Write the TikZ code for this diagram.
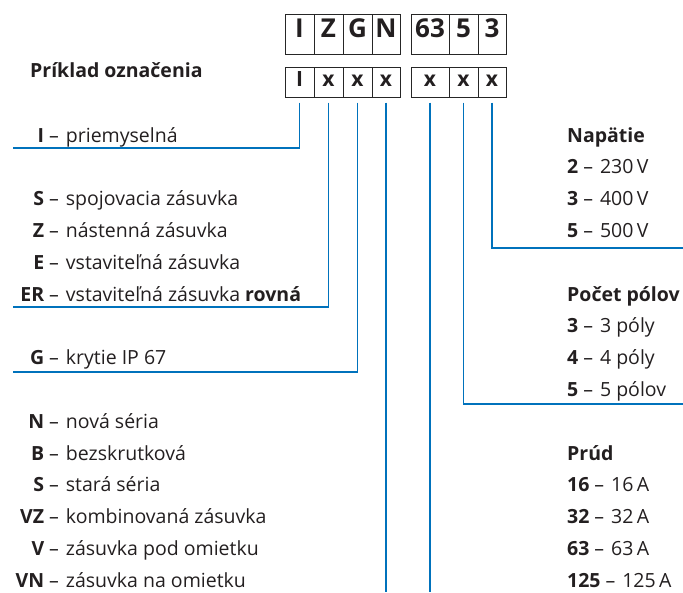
\documentclass[tikz,border=0pt]{standalone}
\usepackage{fontspec}
\setmainfont{Open Sans}
\definecolor{txt}{RGB}{35,31,32}
\definecolor{lineblue}{RGB}{0,114,188}
\newcommand{\lkey}[2]{\makebox[30pt][r]{\bfseries #1}\hspace{5pt}–\hspace{7pt}#2}
\newcommand{\rkey}[2]{{\bfseries #1}\hspace{5pt}–\hspace{7pt}#2}
\begin{document}
\begin{tikzpicture}[x=1pt, y=-1pt,
  cell/.style={draw=black!85, line width=0.9pt, inner sep=0pt, outer sep=0pt, minimum height=40pt, text height=0.72em, text depth=0pt, text=txt, font=\fontsize{26}{26}\selectfont\bfseries},
  xcell/.style={cell, minimum height=30pt, font=\fontsize{21}{21}\selectfont\bfseries},
  item/.style={anchor=base west, inner sep=0pt, text=txt, font=\fontsize{19.5}{22}\selectfont},
  head/.style={item, font=\fontsize{19.5}{22}\selectfont\bfseries},
  conn/.style={draw=lineblue, line width=1.3pt, shorten <=5pt}]
\useasboundingbox (0,0) rectangle (683,592);
\node[cell, minimum width=29pt] (tI) at (299.5, 34) {I};
\node[cell, minimum width=29pt] (tZ) at (328.5, 34) {Z};
\node[cell, minimum width=29pt] (tG) at (357.5, 34) {G};
\node[cell, minimum width=28pt] (tN) at (386, 34) {N};
\node[cell, minimum width=38pt] (t63) at (430, 34) {63};
\node[cell, minimum width=29pt] (t5) at (463.5, 34) {5};
\node[cell, minimum width=28pt] (t3) at (492, 34) {3};
\node[xcell, minimum width=29pt] (b1) at (299.5, 82.5) {I};
\node[xcell, minimum width=29pt] (b2) at (328.5, 82.5) {x};
\node[xcell, minimum width=29pt] (b3) at (357.5, 82.5) {x};
\node[xcell, minimum width=28pt] (b4) at (386, 82.5) {x};
\node[xcell, minimum width=38pt] (b5) at (430, 82.5) {x};
\node[xcell, minimum width=29pt] (b6) at (463.5, 82.5) {x};
\node[xcell, minimum width=28pt] (b7) at (492, 82.5) {x};
\node[head] (title) at (30, 77) {Príklad označenia};
\node[item] (i1) at (14, 142) {\lkey{I}{priemyselná}};
\node[item] (s1) at (14, 205.6) {\lkey{S}{spojovacia zásuvka}};
\node[item] (s2) at (14, 237.4) {\lkey{Z}{nástenná zásuvka}};
\node[item] (s3) at (14, 269.2) {\lkey{E}{vstaviteľná zásuvka}};
\node[item] (s4) at (14, 301) {\lkey{ER}{vstaviteľná zásuvka \textbf{rovná}}};
\node[item] (g1) at (14, 364.6) {\lkey{G}{krytie IP 67}};
\node[item] (n1) at (14, 428.2) {\lkey{N}{nová séria}};
\node[item] (n2) at (14, 460) {\lkey{B}{bezskrutková}};
\node[item] (n3) at (14, 491.8) {\lkey{S}{stará séria}};
\node[item] (n4) at (14, 523.6) {\lkey{VZ}{kombinovaná zásuvka}};
\node[item] (n5) at (14, 555.4) {\lkey{V}{zásuvka pod omietku}};
\node[item] (n6) at (14, 587.2) {\lkey{VN}{zásuvka na omietku}};
\node[head] (u0) at (567, 142) {Napätie};
\node[item] (u1) at (567, 173.8) {\rkey{2}{230\,V}};
\node[item] (u2) at (567, 205.6) {\rkey{3}{400\,V}};
\node[item] (u3) at (567, 237.4) {\rkey{5}{500\,V}};
\node[head] (p0) at (567, 301) {Počet pólov};
\node[item] (p1) at (567, 332.8) {\rkey{3}{3 póly}};
\node[item] (p2) at (567, 364.6) {\rkey{4}{4 póly}};
\node[item] (p3) at (567, 396.4) {\rkey{5}{5 pólov}};
\node[head] (a0) at (567, 460) {Prúd};
\node[item] (a1) at (567, 491.8) {\rkey{16}{16\,A}};
\node[item] (a2) at (567, 523.6) {\rkey{32}{32\,A}};
\node[item] (a3) at (567, 555.4) {\rkey{63}{63\,A}};
\node[item] (a4) at (567, 587.2) {\rkey{125}{125\,A}};
\coordinate (e1) at (13, 148);
\coordinate (e2) at (13, 307);
\coordinate (e3) at (13, 372);
\coordinate (bottom) at (0, 592);
\coordinate (e6) at (683, 404);
\coordinate (e7) at (683, 248);
\draw[conn] (b1.south) |- (e1);
\draw[conn] (b2.south) |- (e2);
\draw[conn] (b3.south) |- (e3);
\draw[conn] (b4.south) -- (b4.south |- bottom);
\draw[conn] (b5.south) -- (b5.south |- bottom);
\draw[conn] (b6.south) |- (e6);
\draw[conn] (b7.south) |- (e7);
\end{tikzpicture}
\end{document}
